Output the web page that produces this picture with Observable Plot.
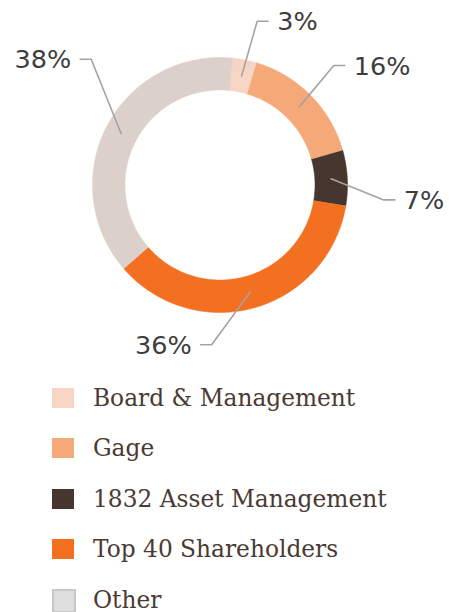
<!DOCTYPE html>
<html>
<head>
<meta charset="utf-8">
<script src="https://cdn.jsdelivr.net/npm/d3@7"></script>
<script src="https://cdn.jsdelivr.net/npm/@observablehq/plot@0.6"></script>
<style>
  html, body { margin: 0; padding: 0; background: #fff; width: 449px; height: 612px; overflow: hidden; }
  #chart svg { display: block; }
  #legend { position: relative; font-family: "DejaVu Serif", serif; color: #4a3a33; }
  .sw { position: absolute; left: 52px; width: 22px; height: 20px; box-sizing: border-box; }
  .lab { position: absolute; left: 93px; white-space: nowrap; font-size: 23.3px; line-height: 24px; }
</style>
</head>
<body>
<div id="chart"></div>
<div id="legend"></div>
<script>
// ---- data ----
const categories = ["Board & Management", "Gage", "1832 Asset Management", "Top 40 Shareholders", "Other"];
const shares = [3, 16, 7, 36, 38];
const shareLabels = ["3%", "16%", "7%", "36%", "38%"];

// ---- styling / layout ----
const palette = ["#f7d5c5", "#f5a878", "#47362f", "#f37021", "#dcd0cb"];
const W = 449, H = 372;
const cx = 219.5, cy = 184.5;          // centre of the ring in page pixels
const rOuter = 127.5, rInner = 95;
const startDeg = 5.8;
const elbowAngle = [12.8, 43.6, 95.2, 183, 314.3];
const elbowRadius = [168, 165, 164.5, 160, 180];

const rad = d => d * Math.PI / 180;
const polar = (r, a) => [r * Math.sin(a), r * Math.cos(a)];

const pie = d3.pie().sort(null).value(d => d.share).startAngle(rad(startDeg)).endAngle(rad(startDeg) + 2 * Math.PI);
const rows = categories.map((c, i) => ({category: c, share: shares[i], label: shareLabels[i], i}));
const arcs = pie(rows);

// polygon points of every slice
const slicePts = [];
arcs.forEach(a => {
  const n = Math.max(8, Math.ceil((a.endAngle - a.startAngle) / rad(1)));
  for (let k = 0; k <= n; k++) {
    const t = a.startAngle + (a.endAngle - a.startAngle) * k / n;
    const [x, y] = polar(rOuter, t);
    slicePts.push({category: a.data.category, x, y});
  }
  for (let k = n; k >= 0; k--) {
    const t = a.startAngle + (a.endAngle - a.startAngle) * k / n;
    const [x, y] = polar(rInner, t);
    slicePts.push({category: a.data.category, x, y});
  }
});

// leader lines and label anchors
const leaderPts = [];
const labelPts = [];
arcs.forEach((a, i) => {
  const mid = (a.startAngle + a.endAngle) / 2;
  const [x0, y0] = polar((rOuter + rInner) / 2, mid);
  const [x1, y1] = polar(elbowRadius[i], rad(elbowAngle[i]));
  const right = x1 > 0;
  const x2 = x1 + (right ? 11 : -11);
  leaderPts.push({k: i, x: x0, y: y0}, {k: i, x: x1, y: y1}, {k: i, x: x2, y: y1});
  labelPts.push({label: a.data.label, right, x: x2 + (right ? 9 : -9), y: y1});
});

const plot = Plot.plot({
  width: W,
  height: H,
  margin: 0,
  x: {domain: [-cx, W - cx], axis: null},
  y: {domain: [cy - H, cy], axis: null},
  color: {domain: categories, range: palette},
  marks: [
    Plot.line(slicePts, {x: "x", y: "y", z: "category", fill: "category", stroke: "category", strokeWidth: 0.5, curve: "linear"}),
    Plot.line(leaderPts, {x: "x", y: "y", z: "k", stroke: "#a3a3a3", strokeWidth: 1.6, curve: "linear"}),
    Plot.text(labelPts.filter(d => d.right), {x: "x", y: "y", text: "label", textAnchor: "start", lineAnchor: "middle", dy: 1, fontSize: 25.5, fill: "#3d3d3d", fontFamily: "DejaVu Sans"}),
    Plot.text(labelPts.filter(d => !d.right), {x: "x", y: "y", text: "label", textAnchor: "end", lineAnchor: "middle", dy: 1, fontSize: 25.5, fill: "#3d3d3d", fontFamily: "DejaVu Sans"})
  ]
});
document.getElementById("chart").appendChild(plot);

// legend (below the svg)
const legend = document.getElementById("legend");
categories.forEach((c, i) => {
  const centre = 25.5 + i * 50.6;
  const sw = document.createElement("div");
  sw.className = "sw";
  sw.style.top = (centre - 10) + "px";
  sw.style.background = palette[i];
  if (c === "Other") {
    sw.style.background = "#dedede";
    sw.style.border = "2px solid #c9c9c9";
    sw.style.width = "24px";
    sw.style.height = "24px";
    sw.style.top = (centre - 11) + "px";
  }
  const lab = document.createElement("div");
  lab.className = "lab";
  lab.style.top = (centre - 12) + "px";
  lab.textContent = c;
  legend.appendChild(sw);
  legend.appendChild(lab);
});
</script>
</body>
</html>
